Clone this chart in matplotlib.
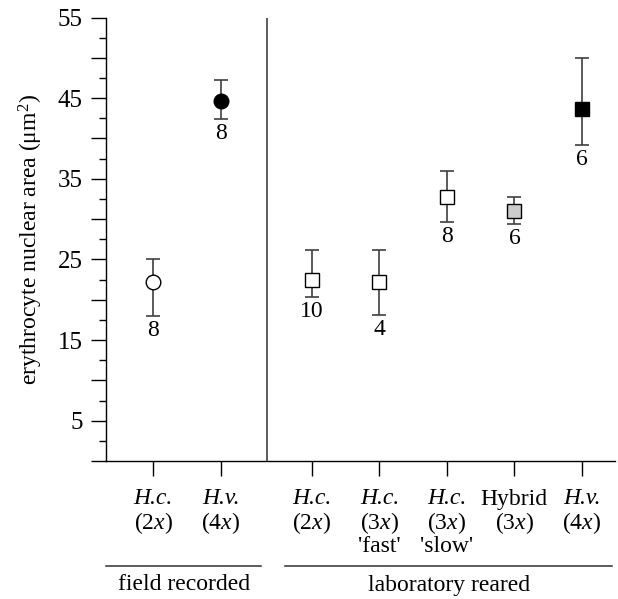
import matplotlib
matplotlib.use("Agg")
import matplotlib.pyplot as plt
from matplotlib.transforms import blended_transform_factory
import numpy as np

plt.rcParams['font.family'] = ['Liberation Serif', 'DejaVu Serif']
plt.rcParams['mathtext.fontset'] = 'custom'
plt.rcParams['mathtext.rm'] = 'Liberation Serif'
plt.rcParams['mathtext.it'] = 'Liberation Serif:italic'

# ---- data ----
label_row1 = ["H.c.", "H.v.", "H.c.", "H.c.", "H.c.", "Hybrid", "H.v."]
row1_italic = [True, True, True, True, True, False, True]
label_row2 = ["(2$\\mathit{x}$)", "(4$\\mathit{x}$)", "(2$\\mathit{x}$)",
              "(3$\\mathit{x}$)", "(3$\\mathit{x}$)", "(3$\\mathit{x}$)",
              "(4$\\mathit{x}$)"]
label_row3 = ["", "", "", "'fast'", "'slow'", "", ""]
x_pos = [1, 2, 3.35, 4.35, 5.35, 6.35, 7.35]
means = [22.2, 44.6, 22.5, 22.2, 32.7, 31.0, 43.6]
err_low = [18.0, 42.4, 20.4, 18.1, 29.6, 29.4, 39.2]
err_high = [25.1, 47.2, 26.2, 26.2, 36.0, 32.8, 50.0]
n_vals = [8, 8, 10, 4, 8, 6, 6]
markers = ['o', 'o', 's', 's', 's', 's', 's']
faces = ['white', 'black', 'white', 'white', 'white', '#cccccc', 'black']
groups = ["field recorded", "laboratory reared"]
group_span = [(0.30, 2.60), (2.95, 7.80)]
separator_x = 2.69

FS = 17
W, H = 618, 599
fig = plt.figure(figsize=(W / 100, H / 100), dpi=100)
ax = fig.add_axes([106 / W, (H - 461) / H, (615 - 106) / W, (461 - 17.5) / H])

for i in range(len(means)):
    lo = means[i] - err_low[i]
    hi = err_high[i] - means[i]
    ax.errorbar(x_pos[i], means[i], yerr=[[lo], [hi]], fmt='none',
                ecolor='#404040', elinewidth=1.2, capsize=5, capthick=1.2, zorder=2)
    ms = 10.5 if markers[i] == 'o' else 10
    ax.plot(x_pos[i], means[i], marker=markers[i], ms=ms, mfc=faces[i],
            mec='black', mew=1.0, linestyle='none', zorder=3)
    ax.annotate(str(n_vals[i]), (x_pos[i], err_low[i]), xytext=(0, -3),
                textcoords='offset points', ha='center', va='top', fontsize=FS)

ax.axvline(separator_x, color='#303030', lw=1.1, ymin=0, ymax=1)

ax.set_xlim(0.30, 7.84)
ax.set_ylim(0, 55)
ax.set_yticks(np.arange(0, 56, 5))
ax.set_yticklabels(['' if v % 10 == 0 else str(v) for v in range(0, 56, 5)])
ax.set_yticks(np.arange(2.5, 55, 5), minor=True)
ax.tick_params(axis='y', which='major', length=10.8, width=1.0, direction='out',
               labelsize=18, pad=6)
ax.tick_params(axis='y', which='minor', length=5, width=1.0, direction='out')
ax.set_xticks(x_pos)
ax.set_xticklabels([''] * len(x_pos))
ax.tick_params(axis='x', length=10.8, width=1.0, direction='out')

for s in ['top', 'right']:
    ax.spines[s].set_visible(False)
for s in ['left', 'bottom']:
    ax.spines[s].set_linewidth(1.0)

ax.set_ylabel("erythrocyte nuclear area (\u03bcm$^2$)", fontsize=FS)
ax.yaxis.set_label_coords(-0.119, 0.5)

tr = blended_transform_factory(ax.transData, fig.transFigure)
row_y = [(H - 499) / H, (H - 523) / H, (H - 547) / H]
for i in range(len(x_pos)):
    ax.text(x_pos[i], row_y[0], label_row1[i], transform=tr, ha='center',
            va='center', fontsize=FS,
            fontstyle='italic' if row1_italic[i] else 'normal')
    ax.text(x_pos[i], row_y[1], label_row2[i], transform=tr, ha='center',
            va='center', fontsize=FS)
    if label_row3[i]:
        ax.text(x_pos[i], row_y[2], label_row3[i], transform=tr, ha='center',
                va='center', fontsize=FS)

for g, (a, b) in zip(groups, group_span):
    ax.plot([a, b], [(H - 566) / H] * 2, color='#303030', lw=1.1,
            transform=tr, clip_on=False)
    ax.text((a + b) / 2, (H - 585) / H, g, transform=tr, ha='center',
            va='center', fontsize=FS)

fig.savefig("out.png", dpi=100)
